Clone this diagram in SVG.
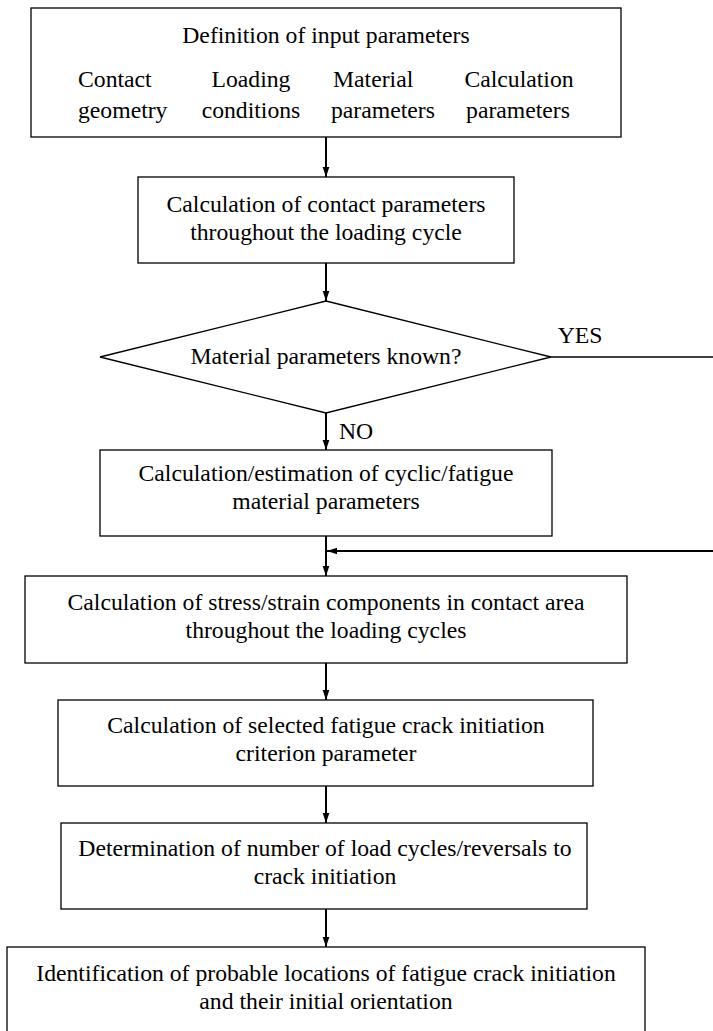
<svg xmlns="http://www.w3.org/2000/svg" width="713" height="1031" viewBox="0 0 713 1031">
<style>
.box{fill:#fff;stroke:#000;stroke-width:1.3}
.t{font-family:"Liberation Serif",serif;font-size:23.7px;fill:#000;text-anchor:middle}
.s{text-anchor:start}
.c{stroke:#000;stroke-width:2;fill:none}
.thin{stroke:#000;stroke-width:1.3;fill:none}
</style>
<defs>
<marker id="ah" markerWidth="10" markerHeight="16" refX="15" refY="5" orient="auto" markerUnits="userSpaceOnUse" viewBox="0 0 15 10">
<path d="M0,0 L15,5 L0,10 Z" fill="#000"/>
</marker>
</defs>
<rect width="713" height="1031" fill="#fff"/>
<g id="connectors">
<line class="c" x1="326" y1="137" x2="326" y2="177" marker-end="url(#ah)"/>
<line class="c" x1="326" y1="263" x2="326" y2="301" marker-end="url(#ah)"/>
<line class="c" x1="326" y1="413" x2="326" y2="450" marker-end="url(#ah)"/>
<line class="c" x1="326" y1="536" x2="326" y2="576" marker-end="url(#ah)"/>
<line class="thin" x1="551" y1="357" x2="713" y2="357"/>
<line class="c" x1="713" y1="551" x2="327" y2="551" marker-end="url(#ah)"/>
<line class="c" x1="326" y1="663" x2="326" y2="700" marker-end="url(#ah)"/>
<line class="c" x1="326" y1="786" x2="326" y2="823" marker-end="url(#ah)"/>
<line class="c" x1="326" y1="909" x2="326" y2="947" marker-end="url(#ah)"/>
<text class="t" x="580" y="343">YES</text>
<text class="t" x="356" y="439">NO</text>
</g>
<g id="n1">
<rect class="box" x="31" y="8" width="590" height="129"/>
<text class="t" x="326" y="43">Definition of input parameters</text>
<text class="t s" x="78" y="87">Contact</text>
<text class="t s" x="78" y="118">geometry</text>
<text class="t" x="251" y="87">Loading</text>
<text class="t" x="251" y="118">conditions</text>
<text class="t s" x="333" y="87">Material</text>
<text class="t s" x="331" y="118">parameters</text>
<text class="t" x="519" y="87">Calculation</text>
<text class="t" x="518" y="118">parameters</text>
</g>
<g id="n2">
<rect class="box" x="138" y="177" width="376" height="86"/>
<text class="t" x="326" y="212">Calculation of contact parameters</text>
<text class="t" x="326" y="240">throughout the loading cycle</text>
</g>
<g id="n3">
<polygon class="box" points="326,301 551,357 326,413 100,357"/>
<text class="t" x="326" y="364">Material parameters known?</text>
</g>
<g id="n4">
<rect class="box" x="100" y="450" width="452" height="86"/>
<text class="t" x="326" y="481">Calculation/estimation of cyclic/fatigue</text>
<text class="t" x="326" y="509">material parameters</text>
</g>
<g id="n5">
<rect class="box" x="25" y="576" width="602" height="87"/>
<text class="t" x="326" y="610">Calculation of stress/strain components in contact area</text>
<text class="t" x="326" y="638">throughout the loading cycles</text>
</g>
<g id="n6">
<rect class="box" x="58" y="700" width="535" height="86"/>
<text class="t" x="326" y="733">Calculation of selected fatigue crack initiation</text>
<text class="t" x="326" y="761">criterion parameter</text>
</g>
<g id="n7">
<rect class="box" x="61" y="823" width="526" height="86"/>
<text class="t" x="325" y="856">Determination of number of load cycles/reversals to</text>
<text class="t" x="325" y="884">crack initiation</text>
</g>
<g id="n8">
<rect class="box" x="7" y="947" width="638" height="100"/>
<text class="t" x="326" y="981">Identification of probable locations of fatigue crack initiation</text>
<text class="t" x="326" y="1009">and their initial orientation</text>
</g>
</svg>
